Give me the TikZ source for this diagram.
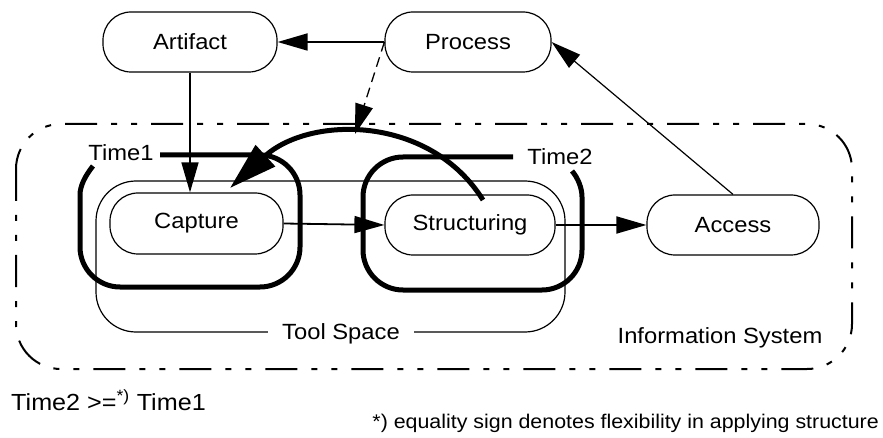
\documentclass[tikz,border=0pt]{standalone}
\usepackage{fontspec}
\setmainfont{Liberation Sans}[FakeStretch=1.08]
\usetikzlibrary{arrows.meta}
\begin{document}
\begin{tikzpicture}[x=1pt,y=-1pt,
  font=\fontsize{22}{26}\selectfont,
  proc/.style={draw, line width=1.2pt, rounded corners=28pt, minimum height=60pt, inner sep=0pt},
  txt/.style={inner sep=0pt},
  arr/.style={line width=1.8pt, -{Triangle[length=30pt,width=17pt]}},
  thickline/.style={line width=5pt},
]
\useasboundingbox (0,0) rectangle (883,438);

% outer Information System box
\draw[line width=2pt, dash pattern=on 32pt off 14pt on 6pt off 14pt on 6pt off 14pt, rounded corners=45pt]
  (16,124) rectangle (852,369);
\node[txt] (infosys) at (720,338) {Information System};

% Tool Space box
\draw[line width=1.2pt, rounded corners=40pt] (96,181) rectangle (565,332);
\node[fill=white, inner xsep=14pt, inner ysep=2pt] (tool) at (341,334) {Tool Space};

% nodes
\node[proc, minimum width=174pt] (artifact) at (190,42) {Artifact};
\node[proc, minimum width=166pt] (process) at (468,42) {Process};
\node[proc, minimum width=173pt, minimum height=61pt] (capture) at (196.5,223.5) {Capture};
\node[proc, minimum width=170pt] (struct) at (470,225) {Structuring};
\node[proc, minimum width=172pt] (access) at (733,225) {Access};

% time labels
\node[txt] (t1) at (121,153) {Time1};
\node[txt] (t2) at (560,157) {Time2};

% thick brackets
\draw[thickline] (93,166) .. controls (85,176) and (80,186) .. (80,195) -- (80,247)
  .. controls (80,269) and (98,287) .. (120,287) -- (260,287)
  .. controls (282,287) and (300,269) .. (300,247) -- (300,195)
  .. controls (300,173) and (282,155) .. (260,155) -- (160,155);
\draw[thickline] (513,157) -- (403,157) .. controls (381,157) and (363,175) .. (363,197) -- (363,250)
  .. controls (363,272) and (381,290) .. (403,290) -- (542,290)
  .. controls (564,290) and (582,272) .. (582,250) -- (582,197)
  .. controls (582,188) and (578,178) .. (572,171);

% arrows
\draw[arr] (process.west) -- (artifact.east);
\draw[arr, line width=1.5pt] (artifact.south) -- (artifact.south |- capture.north);
\draw[arr] (capture.east) -- (struct.west);
\draw[arr] (struct.east) -- (access.west);
\draw[arr, line width=1.2pt] (access.north) -- (process.east);

% big curved arrow
\coordinate (arcstart) at (483,200);
\coordinate (arcend) at (230,188);
\coordinate (arctop) at (355,134);
\draw[line width=5pt, -{Triangle[length=48pt,width=28pt]}]
  (arcstart) .. controls (430,115) and (310,115) .. (arcend);

% dashed arrow
\draw[line width=1.3pt, dash pattern=on 10pt off 6pt, -{Triangle[length=30pt,width=18pt]}]
  (process.west) -- (arctop);

% bottom texts
\node[txt, font=\fontsize{23.3}{26}\selectfont] (rel) at (108.5,400) {Time2 >=\textsuperscript{*)} Time1};
\node[txt, anchor=east, font=\fontsize{19.8}{24}\selectfont] (fn) at (879,423) {*) equality sign denotes flexibility in applying structure};
\end{tikzpicture}
\end{document}
